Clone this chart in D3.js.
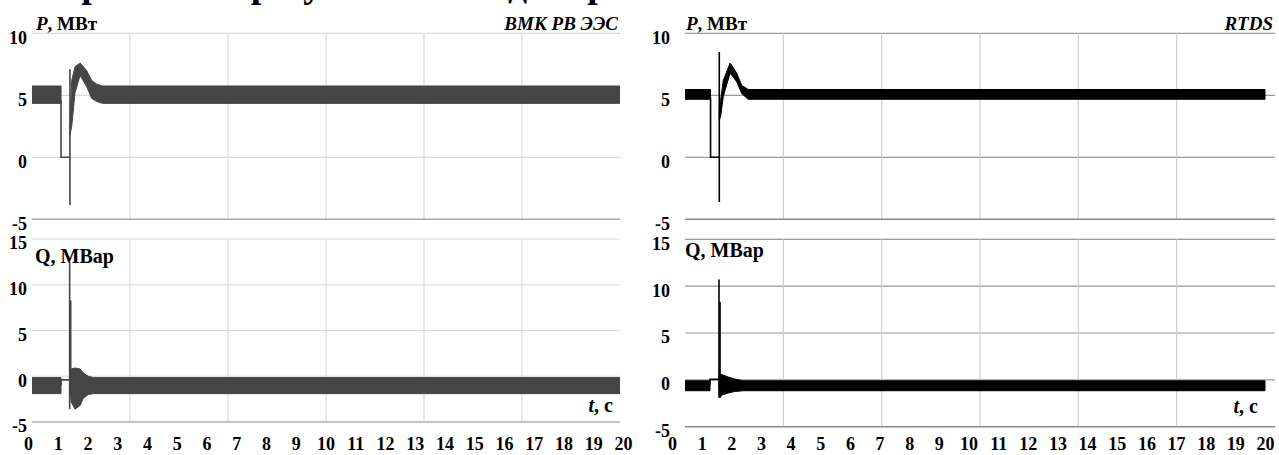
<!DOCTYPE html>
<html><head><meta charset="utf-8">
<script src="https://cdn.jsdelivr.net/npm/d3@7"></script>
<style>
body{margin:0;background:#fff;}
svg{display:block;}
text{font-family:"Liberation Serif","Times New Roman",serif;font-weight:bold;fill:#000;}
</style>
</head><body>
<svg id="c" width="1279" height="455"></svg>
<script>
// ---------- data ----------
const titleText = "Сравнение результатов моделирования в ВМК РВ ЭЭС и RTDS";
const xTickLabels = [0,1,2,3,4,5,6,7,8,9,10,11,12,13,14,15,16,17,18,19,20];
const yTicksP = [10,5,0,-5];
const yTicksQ = [15,10,5,0,-5];

// ВМК РВ ЭЭС, active power P (envelope of the oscillating band)
const vmkP_pre_t  = [0, 1.11];
const vmkP_pre_hi = [5.75, 5.75];
const vmkP_pre_lo = [4.35, 4.35];
const vmkP_fault_t = [1.11, 1.11, 1.41];
const vmkP_fault_v = [4.6, 0, 0];
const vmkP_spike_t = [1.41, 1.41];
const vmkP_spike_v = [-3.85, 7.1];
const vmkP_post_t  = [1.41, 1.47, 1.58, 1.75, 1.97, 2.14, 2.31, 2.5, 20];
const vmkP_post_hi = [2.6, 6.2, 7.3, 7.6, 7.0, 6.2, 5.9, 5.75, 5.75];
const vmkP_post_lo = [1.8, 2.5, 5.2, 6.6, 5.7, 4.75, 4.5, 4.35, 4.35];

// ВМК РВ ЭЭС, reactive power Q
const vmkQ_pre_t  = [0, 1.11];
const vmkQ_pre_hi = [-0.15, -0.15];
const vmkQ_pre_lo = [-1.9, -1.9];
const vmkQ_fault_t = [1.11, 1.11, 1.40];
const vmkQ_fault_v = [-1.0, -0.4, -0.4];
const vmkQ_spike1_t = [1.40, 1.40];
const vmkQ_spike1_v = [-3.6, 12.5];
const vmkQ_spike2_t = [1.435, 1.435];
const vmkQ_spike2_v = [-1.0, 8.3];
const vmkQ_post_t  = [1.40, 1.45, 1.58, 1.75, 1.86, 2.03, 2.2, 20];
const vmkQ_post_hi = [-0.4, 0.8, 0.9, 0.8, 0.35, 0.0, -0.15, -0.15];
const vmkQ_post_lo = [-0.5, -2.8, -3.6, -3.2, -2.4, -2.0, -1.9, -1.9];

// RTDS, active power P
const rtdsP_pre_t  = [0, 1.30];
const rtdsP_pre_hi = [5.47, 5.47];
const rtdsP_pre_lo = [4.68, 4.68];
const rtdsP_fault_t = [1.30, 1.30, 1.595];
const rtdsP_fault_v = [4.8, 0, 0];
const rtdsP_spike_t = [1.595, 1.595];
const rtdsP_spike_v = [-3.6, 8.5];
const rtdsP_post_t  = [1.595, 1.64, 1.73, 1.96, 2.18, 2.35, 2.57, 20];
const rtdsP_post_hi = [4.0, 4.6, 6.2, 7.6, 6.8, 5.8, 5.47, 5.47];
const rtdsP_post_lo = [3.0, 3.3, 4.9, 6.8, 6.1, 5.15, 4.68, 4.68];

// RTDS, reactive power Q
const rtdsQ_pre_t  = [0, 1.28];
const rtdsQ_pre_hi = [-0.1, -0.1];
const rtdsQ_pre_lo = [-1.16, -1.16];
const rtdsQ_fault_t = [1.28, 1.28, 1.585];
const rtdsQ_fault_v = [-0.6, 0.05, 0.05];
const rtdsQ_spike1_t = [1.585, 1.585];
const rtdsQ_spike1_v = [-1.9, 10.7];
const rtdsQ_spike2_t = [1.62, 1.62];
const rtdsQ_spike2_v = [-0.5, 8.3];
const rtdsQ_post_t  = [1.585, 1.62, 1.69, 1.9, 2.1, 2.4, 20];
const rtdsQ_post_hi = [0.05, 0.6, 0.55, 0.3, 0.1, -0.1, -0.1];
const rtdsQ_post_lo = [-0.6, -1.9, -1.6, -1.4, -1.25, -1.16, -1.16];

// ---------- drawing ----------
const svg = d3.select("#c");
const zip = (t, v) => t.map((d,i)=>[d, v[i]]);
const zip3 = (t, hi, lo) => t.map((d,i)=>({t:d, hi:hi[i], lo:lo[i]}));

// title (cut off at the top edge, as in the source image)
svg.append("text").attr("x", 600).attr("y", -3).attr("text-anchor","middle")
  .attr("font-size", 38).text(titleText);

let clipId = 0;
function panel(cfg){
  const g = svg.append("g");
  const x = d3.scaleLinear().domain([0,20]).range(cfg.xr);
  const y = d3.scaleLinear().domain(cfg.yd).range(cfg.yr);
  const [px0, px1] = cfg.px;
  const top = y(cfg.yd[1]), bot = y(cfg.yd[0]);
  g.selectAll(".hg").data(cfg.yTicks.filter(v=>v!==cfg.yd[0])).enter().append("line")
    .attr("x1", px0).attr("x2", px1).attr("y1", d=>y(d)).attr("y2", d=>y(d))
    .attr("stroke", cfg.hGrid).attr("stroke-width", 1.2);
  g.selectAll(".vg").data(d3.range(1,6)).enter().append("line")
    .attr("x1", d=>px0 + (px1-px0)*d/6).attr("x2", d=>px0 + (px1-px0)*d/6)
    .attr("y1", top).attr("y2", bot).attr("stroke", cfg.vGrid).attr("stroke-width", 1.2);
  g.append("line").attr("x1", px0).attr("x2", px1).attr("y1", bot).attr("y2", bot)
    .attr("stroke", cfg.axisCol).attr("stroke-width", 1.5);

  const id = "clip" + (clipId++);
  svg.append("clipPath").attr("id", id).append("rect")
    .attr("x", px0).attr("y", top - 30).attr("width", px1-px0).attr("height", bot-top+30);
  const s = g.append("g").attr("clip-path", `url(#${id})`);
  const area = d3.area().x(d=>x(d.t)).y0(d=>y(d.lo)).y1(d=>y(d.hi));
  const line = d3.line().x(d=>x(d[0])).y(d=>y(d[1]));
  cfg.bands.forEach(b=>{
    s.append("path").attr("d", area(b)).attr("fill", cfg.col)
      .attr("stroke", cfg.col).attr("stroke-width", 1);
  });
  cfg.lines.forEach(l=>{
    s.append("path").attr("d", line(l)).attr("fill","none")
      .attr("stroke", cfg.col).attr("stroke-width", 1.6);
  });

  const ya = g.append("g").attr("transform", `translate(${cfg.yLabX},0)`)
    .call(d3.axisLeft(y).tickValues(cfg.yTicks).tickFormat(d=>String(d)).tickSize(0).tickPadding(0));
  ya.select(".domain").remove();
  ya.selectAll("text").attr("font-size", 18).attr("font-family", "Liberation Serif")
    .attr("font-weight","bold").attr("fill","#000").attr("dy", "0.55em");

  if (cfg.xLabels){
    const xa = g.append("g").attr("transform", `translate(0,${cfg.xLabY})`)
      .call(d3.axisBottom(x).tickValues(xTickLabels).tickFormat(d=>String(d)).tickSize(0).tickPadding(0));
    xa.select(".domain").remove();
    xa.selectAll("text").attr("font-size", 18).attr("font-family","Liberation Serif")
      .attr("font-weight","bold").attr("fill","#000").attr("dy", "0").attr("y", 0);
  }
  return g;
}

const leftX = {xr:[28,623], px:[32,620], yLabX:27};
const rightX = {xr:[672,1265], px:[685,1275], yLabX:670};

panel(Object.assign({}, leftX, {
  yd:[-5,10], yr:[219.3,33.3], yTicks:yTicksP, col:"#454545",
  hGrid:"#dadada", vGrid:"#dadada", axisCol:"#a8a8a8",
  bands:[zip3(vmkP_pre_t,vmkP_pre_hi,vmkP_pre_lo), zip3(vmkP_post_t,vmkP_post_hi,vmkP_post_lo)],
  lines:[zip(vmkP_fault_t,vmkP_fault_v), zip(vmkP_spike_t,vmkP_spike_v)]
}));
panel(Object.assign({}, leftX, {
  yd:[-5,15], yr:[422,239], yTicks:yTicksQ, col:"#454545",
  hGrid:"#dadada", vGrid:"#dadada", axisCol:"#b0b0b0", xLabels:true, xLabY:450,
  bands:[zip3(vmkQ_pre_t,vmkQ_pre_hi,vmkQ_pre_lo), zip3(vmkQ_post_t,vmkQ_post_hi,vmkQ_post_lo)],
  lines:[zip(vmkQ_fault_t,vmkQ_fault_v), zip(vmkQ_spike1_t,vmkQ_spike1_v), zip(vmkQ_spike2_t,vmkQ_spike2_v)]
}));
panel(Object.assign({}, rightX, {
  yd:[-5,10], yr:[219.3,33.3], yTicks:yTicksP, col:"#000",
  hGrid:"#9a9a9a", vGrid:"#cfcfcf", axisCol:"#8a8a8a",
  bands:[zip3(rtdsP_pre_t,rtdsP_pre_hi,rtdsP_pre_lo), zip3(rtdsP_post_t,rtdsP_post_hi,rtdsP_post_lo)],
  lines:[zip(rtdsP_fault_t,rtdsP_fault_v), zip(rtdsP_spike_t,rtdsP_spike_v)]
}));
panel(Object.assign({}, rightX, {
  yd:[-5,15], yr:[426.7,239.3], yTicks:yTicksQ, col:"#000",
  hGrid:"#9a9a9a", vGrid:"#cfcfcf", axisCol:"#8a8a8a", xLabels:true, xLabY:450,
  bands:[zip3(rtdsQ_pre_t,rtdsQ_pre_hi,rtdsQ_pre_lo), zip3(rtdsQ_post_t,rtdsQ_post_hi,rtdsQ_post_lo)],
  lines:[zip(rtdsQ_fault_t,rtdsQ_fault_v), zip(rtdsQ_spike1_t,rtdsQ_spike1_v), zip(rtdsQ_spike2_t,rtdsQ_spike2_v)]
}));

function pLabel(x, y){
  const t = svg.append("text").attr("x", x).attr("y", y).attr("font-size", 19);
  t.append("tspan").attr("font-style","italic").text("P");
  t.append("tspan").text(", МВт");
}
pLabel(36, 30); pLabel(686, 30);
svg.append("text").attr("x", 618).attr("y", 30).attr("text-anchor","end")
  .attr("font-size", 19).attr("font-style","italic").text("ВМК РВ ЭЭС");
svg.append("text").attr("x", 1273).attr("y", 30).attr("text-anchor","end")
  .attr("font-size", 19).attr("font-style","italic").text("RTDS");
svg.append("text").attr("x", 35).attr("y", 263).attr("font-size", 20).text("Q, МВар");
svg.append("text").attr("x", 685).attr("y", 257).attr("font-size", 20).text("Q, МВар");
function tLabel(xEnd, y){
  const t = svg.append("text").attr("x", xEnd).attr("y", y).attr("text-anchor","end").attr("font-size", 20);
  t.append("tspan").attr("font-style","italic").text("t");
  t.append("tspan").text(", с");
}
tLabel(613, 412); tLabel(1258, 413);
</script>
</body></html>
